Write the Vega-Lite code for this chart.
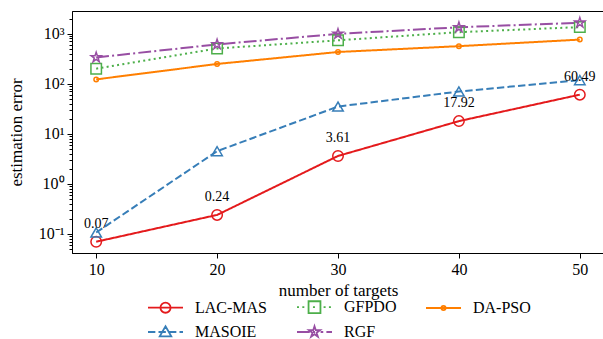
{
  "$schema": "https://vega.github.io/schema/vega-lite/v6.json",
  "width": 532,
  "height": 242,
  "autosize": {"type": "none"},
  "padding": {"left": 72, "top": 11, "right": 0, "bottom": 86},
  "config": {
    "font": "Liberation Serif",
    "view": {"stroke": "#000000", "strokeWidth": 1},
    "axis": {"grid": false, "domainColor": "#000", "tickColor": "#000", "labelColor": "#000", "titleColor": "#000", "labelFont": "Liberation Serif", "titleFont": "Liberation Serif", "labelFontSize": 16, "titleFontSize": 17, "titleFontWeight": "normal"},
    "legend": {"labelFont": "Liberation Serif", "labelFontSize": 16, "labelColor": "#000"}
  },
  "data": {
    "values": [
      {"n": 10, "method": "LAC-MAS", "err": 0.07},
      {"n": 20, "method": "LAC-MAS", "err": 0.24},
      {"n": 30, "method": "LAC-MAS", "err": 3.61},
      {"n": 40, "method": "LAC-MAS", "err": 17.92},
      {"n": 50, "method": "LAC-MAS", "err": 60.49},
      {"n": 10, "method": "MASOIE", "err": 0.107},
      {"n": 20, "method": "MASOIE", "err": 4.5},
      {"n": 30, "method": "MASOIE", "err": 35},
      {"n": 40, "method": "MASOIE", "err": 70},
      {"n": 50, "method": "MASOIE", "err": 118},
      {"n": 10, "method": "GFPDO", "err": 200},
      {"n": 20, "method": "GFPDO", "err": 505},
      {"n": 30, "method": "GFPDO", "err": 735},
      {"n": 40, "method": "GFPDO", "err": 1070},
      {"n": 50, "method": "GFPDO", "err": 1350},
      {"n": 10, "method": "RGF", "err": 335},
      {"n": 20, "method": "RGF", "err": 610},
      {"n": 30, "method": "RGF", "err": 990},
      {"n": 40, "method": "RGF", "err": 1340},
      {"n": 50, "method": "RGF", "err": 1650},
      {"n": 10, "method": "DA-PSO", "err": 122},
      {"n": 20, "method": "DA-PSO", "err": 248},
      {"n": 30, "method": "DA-PSO", "err": 430},
      {"n": 40, "method": "DA-PSO", "err": 562},
      {"n": 50, "method": "DA-PSO", "err": 760}
    ]
  },
  "encoding": {
    "x": {
      "field": "n", "type": "quantitative",
      "scale": {"domain": [8, 52], "nice": false, "zero": false},
      "axis": {"title": "number of targets", "values": [10, 20, 30, 40, 50], "tickSize": 5, "labelPadding": 3, "titlePadding": 5, "labelFlush": false}
    },
    "y": {
      "field": "err", "type": "quantitative",
      "scale": {"type": "log", "domain": [0.04169, 2831], "nice": false},
      "axis": {
        "title": "estimation error",
        "values": [0.05, 0.06, 0.07, 0.08, 0.09, 0.1, 0.2, 0.3, 0.4, 0.5, 0.6, 0.7, 0.8, 0.9, 1, 2, 3, 4, 5, 6, 7, 8, 9, 10, 20, 30, 40, 50, 60, 70, 80, 90, 100, 200, 300, 400, 500, 600, 700, 800, 900, 1000, 2000],
        "labelExpr": "datum.value == 1000 ? '10³' : datum.value == 100 ? '10²' : datum.value == 10 ? '10¹' : datum.value == 1 ? '10⁰' : datum.value == 0.1 ? '10⁻¹' : ''",
        "labelOverlap": false,
        "labelFlush": false,
        "tickSize": {"condition": {"test": "abs(log(datum.value)/LN10 - round(log(datum.value)/LN10)) < 0.000001", "value": 5}, "value": 3},
        "labelPadding": 3,
        "titlePadding": 13
      }
    }
  },
  "layer": [
    {
      "mark": {"type": "line", "strokeWidth": 2},
      "encoding": {
        "color": {
          "field": "method", "type": "nominal",
          "scale": {"domain": ["LAC-MAS", "GFPDO", "DA-PSO", "MASOIE", "RGF"], "range": ["#e41a1c", "#4daf4a", "#ff7f00", "#377eb8", "#984ea3"]},
          "legend": {
            "title": null,
            "orient": "none",
            "legendX": 74,
            "legendY": 288,
            "columns": 3,
            "direction": "horizontal",
            "columnPadding": 25,
            "rowPadding": 5,
            "labelOffset": 33,
            "symbolSize": 144,
            "symbolStrokeWidth": 1.8,
            "encode": {
              "symbols": {
                "update": {
                  "shape": {"signal": "datum.value == 'LAC-MAS' ? 'M-1,0L4.833,0M2.763,0A0.846,0.846 0 1,1 1.071,0A0.846,0.846 0 1,1 2.763,0' : datum.value == 'MASOIE' ? 'M-1,0L0.225,0M0.75,0L1.975,0M2.5,0L3.725,0M4.25,0L4.833,0M1.917,-0.963L2.88,0.729L0.954,0.729Z' : datum.value == 'GFPDO' ? 'M-1,0L-0.667,0M-0.113,0L0.219,0M1.66,0L1.993,0M3.434,0L3.766,0M4.321,0L4.653,0M0.925,-0.992L2.909,-0.992L2.909,0.992L0.925,0.992Z' : datum.value == 'RGF' ? 'M-1,0L1.132,0M1.666,0L1.999,0M2.938,0L3.376,0M3.901,0L4.833,0M1.917,-0.963L2.133,-0.298L2.833,-0.298L2.267,0.114L2.483,0.779L1.917,0.368L1.351,0.779L1.567,0.114L1.001,-0.298L1.701,-0.298Z' : 'M-1,0L4.833,0M2.267,0A0.35,0.35 0 1,1 1.567,0A0.35,0.35 0 1,1 2.267,0'"},
                  "size": {"value": 144},
                  "fill": {"value": "transparent"},
                  "strokeDash": {"value": []},
                  "strokeWidth": {"value": 1.8}
                }
              }
            }
          }
        },
        "strokeDash": {
          "field": "method", "type": "nominal",
          "scale": {"domain": ["LAC-MAS", "MASOIE", "GFPDO", "RGF", "DA-PSO"], "range": [[1, 0], [7.4, 3.2], [2, 3.3], [12.8, 3.2, 2, 3.2], [1, 0]]},
          "legend": null
        }
      }
    },
    {
      "transform": [{"filter": "datum.method != 'DA-PSO'"}],
      "mark": {"type": "point", "filled": false, "strokeWidth": 1.5, "opacity": 1, "size": 110},
      "encoding": {
        "color": {"field": "method", "type": "nominal", "legend": null},
        "shape": {
          "field": "method", "type": "nominal",
          "scale": {"domain": ["LAC-MAS", "MASOIE", "GFPDO", "RGF"], "range": ["circle", "triangle-up", "square", "M0,-1L0.2245,-0.309L0.951,-0.309L0.363,0.118L0.588,0.809L0,0.382L-0.588,0.809L-0.363,0.118L-0.951,-0.309L-0.2245,-0.309Z"]},
          "legend": null
        }
      }
    },
    {
      "transform": [{"filter": "datum.method == 'DA-PSO'"}],
      "mark": {"type": "point", "shape": "circle", "filled": false, "strokeWidth": 1.5, "opacity": 1, "size": 20, "color": "#ff7f00"}
    },
    {
      "transform": [{"filter": "datum.method == 'LAC-MAS'"}],
      "mark": {"type": "text", "dy": -18, "fontSize": 14, "font": "Liberation Serif", "color": "#000", "baseline": "middle", "align": "center"},
      "encoding": {
        "text": {"field": "err", "type": "quantitative", "format": ".2f"}
      }
    }
  ]
}
